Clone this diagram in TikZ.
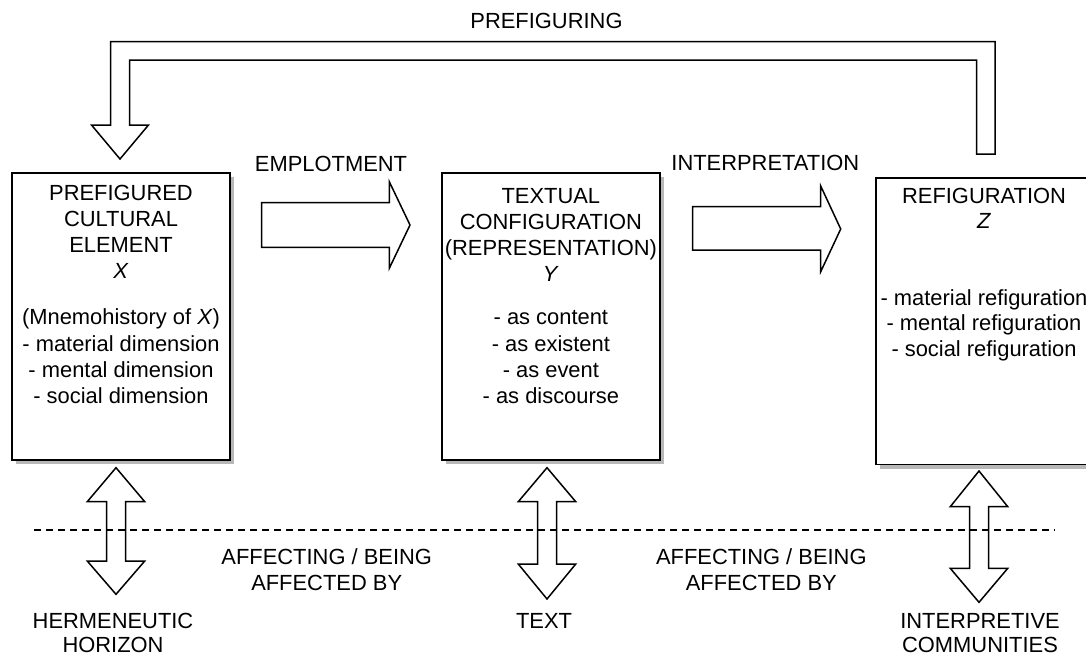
\documentclass[tikz,border=0pt]{standalone}
\usepackage{fontspec}
\setmainfont{Liberation Sans}
\usetikzlibrary{shadows}
% vertical two-headed block arrow: #1 top tip, #2 top head length, #3 shaft length, #4 bottom head length
\newcommand{\twowayarrow}[4]{%
  \draw[blk] (#1) -- ++(28.75,#2) -- ++(-19.25,0) -- ++(0,#3) -- ++(19.25,0)
    -- ++(-28.75,#4) -- ++(-28.75,-#4) -- ++(19.25,0) -- ++(0,-#3) -- ++(-19.25,0) -- cycle;}
\begin{document}
\begin{tikzpicture}[x=1pt,y=-1pt,
  box/.style={draw=black, line width=1.8pt, fill=white, inner sep=0pt,
    drop shadow={shadow xshift=4pt, shadow yshift=-4pt, fill=black!28, opacity=1}},
  blk/.style={draw=black, line width=1.5pt, line join=miter},
  txt/.style={inner sep=0pt, align=center, font=\fontsize{21.9}{26}\selectfont},
  sep/.style={draw=black, line width=1.3pt, dash pattern=on 6.5pt off 5.5pt}]
\useasboundingbox (0,0) rectangle (1086,656);
\clip (0,0) rectangle (1086,656);

% the three stages
\node[box, minimum width=218pt, minimum height=287.3pt] (pce) at (121,316.35) {};
\node[box, minimum width=218.3pt, minimum height=287.3pt] (tc) at (550.85,316.35) {};
\node[box, minimum width=216.3pt, minimum height=286.2pt] (rf) at (983.85,321.4) {};

% (multi-line texts are placed by the baseline of their last line)
\node[txt, anchor=base] (pcetxt) at (121,403.7)
  {PREFIGURED\\CULTURAL\\ELEMENT\\\textit{X}\\[19.3pt](Mnemohistory of \textit{X})\\[1.7pt]- material dimension\\- mental dimension\\- social dimension};
\node[txt, anchor=base] (tctxt) at (550.85,403.7)
  {TEXTUAL\\CONFIGURATION\\(REPRESENTATION)\\\textit{Y}\\[17pt]- as content\\[1.7pt]- as existent\\- as event\\- as discourse};
\node[txt, anchor=base] (rftxt) at (984,356.7)
  {REFIGURATION\\[-1pt]\textit{Z}\\[50.7pt]- material refiguration\\[-1pt]- mental refiguration\\[0.7pt]- social refiguration};

% prefiguring loop from refiguration back to the cultural element
\draw[blk] (995,154) -- (995,41.7) -- (110.5,41.7) -- (110.5,125) -- (91.5,125) -- (120,159)
  -- (148.5,125) -- (129.5,125) -- (129.5,60) -- (976.5,60) -- (976.5,154) -- cycle;
\node[txt, anchor=base] (prefig) at (546.5,28.3) {PREFIGURING};

% emplotment and interpretation
\draw[blk] (261.7,202.7) -- (389.3,202.7) -- (389.3,181.7) -- (410,225) -- (389.3,268.3)
  -- (389.3,247.3) -- (261.7,247.3) -- cycle;
\node[txt, anchor=base] (emp) at (331,171.7) {EMPLOTMENT};
\draw[blk] (692.7,206.7) -- (820.7,206.7) -- (820.7,186) -- (840.7,229) -- (820.7,271.7)
  -- (820.7,250) -- (692.7,250) -- cycle;
\node[txt, anchor=base] (interp) at (765.3,170.7) {INTERPRETATION};

% mutual influence with the surroundings
\coordinate (hTop) at (116,467.7);
\coordinate (tTop) at (547,467.7);
\coordinate (cTop) at (979,471);
\twowayarrow{hTop}{34}{59.3}{33.3}
\twowayarrow{tTop}{34}{62.3}{35}
\twowayarrow{cTop}{35.7}{61.6}{34}

\coordinate (sepL) at (34,530);
\coordinate (sepR) at (1055,530);
\draw[sep] (sepL) -- (sepR);

\node[txt, anchor=base] (aff1) at (326.7,590) {AFFECTING / BEING\\AFFECTED BY};
\node[txt, anchor=base] (aff2) at (761.3,590) {AFFECTING / BEING\\AFFECTED BY};
\node[txt, anchor=base] (herm) at (113,652) {HERMENEUTIC\\[-2pt]HORIZON};
\node[txt, anchor=base] (text) at (544,628) {TEXT};
\node[txt, anchor=base] (comm) at (980,652) {INTERPRETIVE\\[-2pt]COMMUNITIES};
\end{tikzpicture}
\end{document}
